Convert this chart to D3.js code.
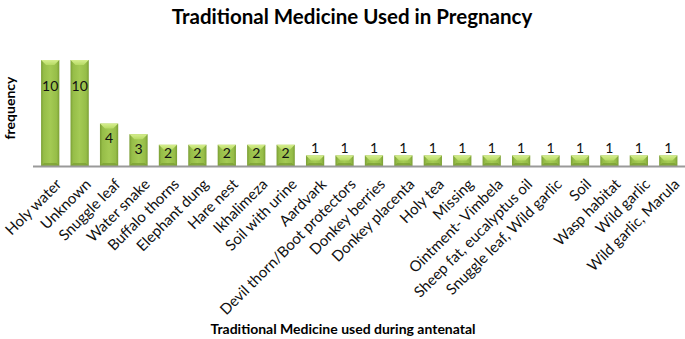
<!DOCTYPE html>
<html>
<head>
<meta charset="utf-8">
<script src="https://cdn.jsdelivr.net/npm/d3@7"></script>
<style>
  body { margin: 0; background: #fff; }
  svg { font-family: Lato, "Open Sans", sans-serif; }
</style>
</head>
<body>
<div id="container"></div>
<script>
// chart data
const categories = ["Holy water", "Unknown", "Snuggle leaf", "Water snake", "Buffalo thorns",
  "Elephant dung", "Hare nest", "Ikhalimeza", "Soil with urine", "Aardvark",
  "Devil thorn/Boot protectors", "Donkey berries", "Donkey placenta", "Holy tea", "Missing",
  "Ointment- Vimbela", "Sheep fat, eucalyptus oil", "Snuggle leaf, Wild garlic", "Soil",
  "Wasp habitat", "Wild garlic", "Wild garlic, Marula"];
const frequency = [10, 10, 4, 3, 2, 2, 2, 2, 2, 1, 1, 1, 1, 1, 1, 1, 1, 1, 1, 1, 1, 1];
const yDomain = [0, 10];

const width = 685, height = 339;
const baseY = 166;

const svg = d3.select("#container").append("svg")
  .attr("width", width)
  .attr("height", height);

// gradients for the bevelled bars
const defs = svg.append("defs");
const grad = defs.append("linearGradient").attr("id", "barGrad")
  .attr("x1", 0).attr("x2", 1).attr("y1", 0).attr("y2", 0);
grad.append("stop").attr("offset", "0%").attr("stop-color", "#7a9e34");
grad.append("stop").attr("offset", "14%").attr("stop-color", "#96bd48");
grad.append("stop").attr("offset", "50%").attr("stop-color", "#a4ca54");
grad.append("stop").attr("offset", "86%").attr("stop-color", "#96bd48");
grad.append("stop").attr("offset", "100%").attr("stop-color", "#7a9e34");

const topGrad = defs.append("linearGradient").attr("id", "topGrad")
  .attr("x1", 0).attr("x2", 0).attr("y1", 0).attr("y2", 1);
topGrad.append("stop").attr("offset", "0%").attr("stop-color", "#d6ee8e");
topGrad.append("stop").attr("offset", "100%").attr("stop-color", "#b6da64");

const x = d3.scaleBand()
  .domain(categories)
  .range([35.5, 683])
  .paddingInner(0.38)
  .paddingOuter(0.19);

const y = d3.scaleLinear()
  .domain(yDomain)
  .range([baseY, 60]);

const data = categories.map((c, i) => ({ name: c, value: frequency[i] }));

// bars
const bars = svg.append("g").selectAll("g.bar")
  .data(data)
  .join("g")
  .attr("class", "bar");

bars.append("rect")
  .attr("x", d => x(d.name))
  .attr("y", d => y(d.value))
  .attr("width", x.bandwidth())
  .attr("height", d => baseY - y(d.value))
  .attr("fill", "url(#barGrad)");

// top bevel
bars.append("path")
  .attr("d", d => {
    const x0 = x(d.name), x1 = x0 + x.bandwidth(), t = y(d.value), b = 5;
    return `M${x0},${t}L${x1},${t}L${x1 - b},${t + b}L${x0 + b},${t + b}Z`;
  })
  .attr("fill", "url(#topGrad)");

// bottom shade
bars.append("path")
  .attr("d", d => {
    const x0 = x(d.name), x1 = x0 + x.bandwidth(), b = 3;
    return `M${x0},${baseY}L${x1},${baseY}L${x1 - b},${baseY - b}L${x0 + b},${baseY - b}Z`;
  })
  .attr("fill", "#789b32")
  .attr("opacity", 0.7);

// value labels
bars.append("text")
  .attr("x", d => x(d.name) + x.bandwidth() / 2)
  .attr("y", d => {
    if (d.value === 1) return y(d.value) - 8;
    return Math.min(y(d.value) + (d.value >= 10 ? 25 : 14), baseY - 14);
  })
  .attr("text-anchor", "middle")
  .attr("dominant-baseline", "central")
  .style("font-size", "14px")
  .style("fill", "#111")
  .text(d => d.value);

// x axis line
svg.append("line")
  .attr("x1", 33).attr("x2", 685)
  .attr("y1", baseY + 0.5).attr("y2", baseY + 0.5)
  .attr("stroke", "#9a9a9a")
  .attr("stroke-width", 2);

// category labels
svg.append("g").selectAll("text.cat")
  .data(categories)
  .join("text")
  .attr("class", "cat")
  .attr("transform", d => `translate(${x(d) + x.bandwidth() / 2 + 8},${baseY + 15}) rotate(-45)`)
  .attr("text-anchor", "end")
  .attr("dominant-baseline", "central")
  .style("font-size", "15px")
  .style("fill", "#111")
  .text(d => d);

// title
svg.append("text")
  .attr("x", 352).attr("y", 16)
  .attr("text-anchor", "middle")
  .attr("dominant-baseline", "central")
  .style("font-size", "20.5px")
  .style("font-weight", "bold")
  .text("Traditional Medicine Used in Pregnancy");

// axis titles
svg.append("text")
  .attr("transform", "translate(9,108) rotate(-90)")
  .attr("text-anchor", "middle")
  .attr("dominant-baseline", "central")
  .style("font-size", "14px")
  .style("font-weight", "bold")
  .text("frequency");

svg.append("text")
  .attr("x", 343).attr("y", 328)
  .attr("text-anchor", "middle")
  .attr("dominant-baseline", "central")
  .style("font-size", "14px")
  .style("font-weight", "bold")
  .text("Traditional Medicine used during antenatal");
</script>
</body>
</html>
